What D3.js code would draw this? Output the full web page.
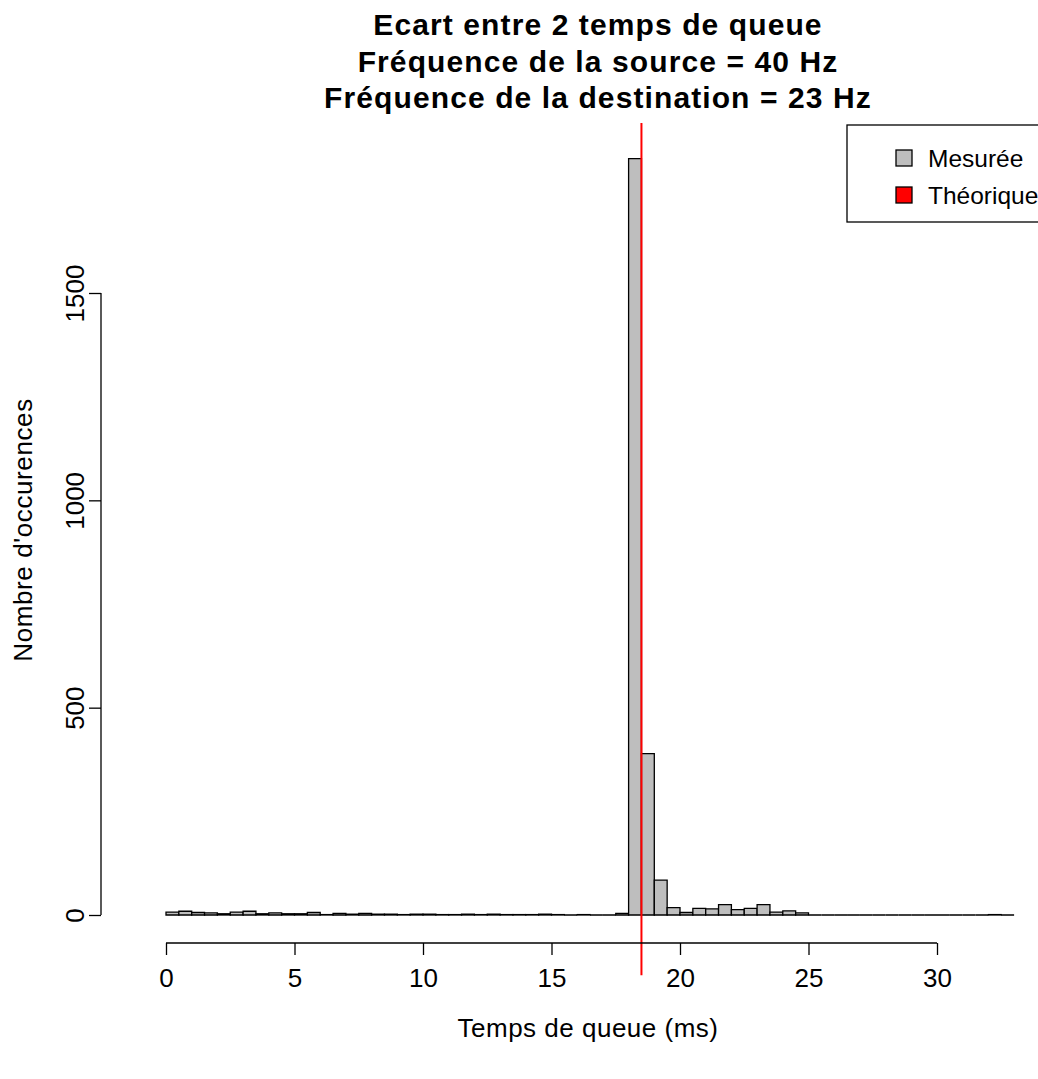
<!DOCTYPE html>
<html>
<head>
<meta charset="utf-8">
<script src="https://cdn.jsdelivr.net/npm/d3@7"></script>
<style>
  body { margin: 0; background: #fff; }
  text { font-family: "Liberation Sans", Arial, sans-serif; fill: #000; }
</style>
</head>
<body>
<script>
// histogram: 0.5 ms bins from 0 to 33 ms
const binWidth = 0.5;
const binStart = 0;
const counts = [
  7, 9, 6, 5, 3, 7, 9, 3, 5, 3, 3, 6, 1, 4, 2, 4, 2, 2, 1, 2,
  2, 1, 1, 2, 1, 2, 1, 1, 1, 2, 1, 0, 1, 0, 0, 4,
  1824, 389, 84, 18, 6, 16, 15, 25, 13, 16, 25, 7, 10, 5,
  0, 0, 0, 0, 0, 0, 0, 0, 0, 0, 0, 0, 0, 0, 1, 0
];
const theoretical = 18.5;
const xTicks = [0, 5, 10, 15, 20, 25, 30];
const yTicks = [0, 500, 1000, 1500];
const titleLines = [
  'Ecart entre 2 temps de queue',
  'Fréquence de la source = 40 Hz',
  'Fréquence de la destination = 23 Hz'
];
const legendItems = [
  { label: 'Mesurée', color: '#bebebe' },
  { label: 'Théorique', color: '#ff0000' }
];

const bins = counts.map((c, i) => ({
  x0: binStart + i * binWidth,
  x1: binStart + (i + 1) * binWidth,
  count: c
}));

const width = 1038;
const height = 1079;

const svg = d3.select('body')
  .append('svg')
    .attr('width', width)
    .attr('height', height);

const x = d3.scaleLinear().domain([0, 30]).range([166, 937]);
const y = d3.scaleLinear().domain([0, 1500]).range([915, 293]);

// bars drawn as closed paths so empty bins still show a flat outline
svg.selectAll('path.bar')
  .data(bins)
  .enter()
  .append('path')
    .attr('class', 'bar')
    .attr('d', d => `M${x(d.x0)},${y(0)}V${y(d.count)}H${x(d.x1)}V${y(0)}Z`)
    .attr('fill', '#bebebe')
    .attr('stroke', '#000')
    .attr('stroke-width', 1.3);

// theoretical line
svg.append('line')
  .attr('x1', x(theoretical))
  .attr('x2', x(theoretical))
  .attr('y1', y(1910))
  .attr('y2', y(-145))
  .attr('stroke', '#ff0000')
  .attr('stroke-width', 2);

// x axis
const xAxisY = 943;
const xAxis = svg.append('g')
  .attr('transform', `translate(0,${xAxisY})`)
  .call(d3.axisBottom(x).tickValues(xTicks).tickSize(12).tickSizeOuter(0).tickPadding(14));
xAxis.select('.domain').remove();
xAxis.append('line')
  .attr('x1', x(xTicks[0])).attr('x2', x(xTicks[xTicks.length - 1]))
  .attr('stroke', '#000').attr('stroke-width', 1.3);
xAxis.selectAll('.tick line').attr('stroke-width', 1.3);
xAxis.selectAll('text')
  .style('font-size', '26px')
  .style('font-family', '"Liberation Sans", Arial, sans-serif')
  .attr('fill', '#000');

// y axis
const yAxisX = 101;
const yAxis = svg.append('g')
  .attr('transform', `translate(${yAxisX},0)`)
  .call(d3.axisLeft(y).tickValues(yTicks).tickSize(12).tickSizeOuter(0));
yAxis.select('.domain').remove();
yAxis.append('line')
  .attr('y1', y(yTicks[0])).attr('y2', y(yTicks[yTicks.length - 1]))
  .attr('stroke', '#000').attr('stroke-width', 1.3);
yAxis.selectAll('.tick line').attr('stroke-width', 1.3);
yAxis.selectAll('.tick text').remove();
yAxis.selectAll('.tick')
  .append('text')
    .attr('transform', 'translate(-17,0) rotate(-90)')
    .attr('text-anchor', 'middle')
    .style('font-size', '26px')
    .text(d => d);

// axis titles
svg.append('text')
  .attr('x', 588)
  .attr('y', 1037)
  .attr('text-anchor', 'middle')
  .style('font-size', '26px')
  .style('letter-spacing', '0.5px')
  .text('Temps de queue (ms)');

svg.append('text')
  .attr('transform', 'translate(32,530) rotate(-90)')
  .attr('text-anchor', 'middle')
  .style('font-size', '26px')
  .style('letter-spacing', '0.6px')
  .text("Nombre d'occurences");

// title
svg.selectAll('text.title')
  .data(titleLines)
  .enter()
  .append('text')
    .attr('class', 'title')
    .attr('x', 598)
    .attr('y', (d, i) => 35 + i * 36.5)
    .attr('text-anchor', 'middle')
    .style('font-size', '30px')
    .style('font-weight', 'bold')
    .style('letter-spacing', '1.1px')
    .text(d => d);

// legend
const legend = svg.append('g');
legend.append('rect')
  .attr('x', 847).attr('y', 125)
  .attr('width', 200).attr('height', 97)
  .attr('fill', '#fff')
  .attr('stroke', '#000')
  .attr('stroke-width', 1.3);

const items = legend.selectAll('g.item')
  .data(legendItems)
  .enter()
  .append('g')
    .attr('class', 'item')
    .attr('transform', (d, i) => `translate(0,${158 + i * 37})`);
items.append('rect')
  .attr('x', 896).attr('y', -8)
  .attr('width', 16).attr('height', 16)
  .attr('fill', d => d.color)
  .attr('stroke', '#000')
  .attr('stroke-width', 1.3);
items.append('text')
  .attr('x', 928)
  .attr('y', 8.5)
  .style('font-size', '24.5px')
  .text(d => d.label);
</script>
</body>
</html>
